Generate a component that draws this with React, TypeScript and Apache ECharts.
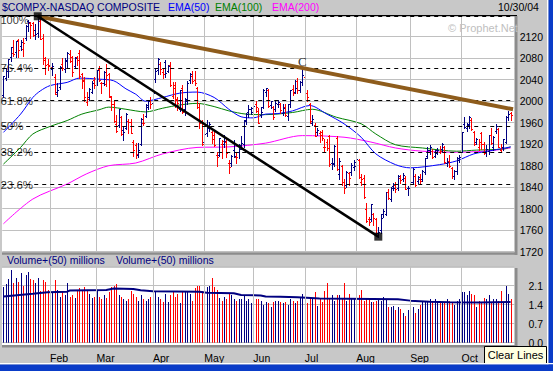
import React, { useEffect, useRef } from 'react';
import * as echarts from 'echarts';

const FONT = '"Liberation Sans", Arial, Helvetica, sans-serif';
const NAVY = '#000080';
const RED = '#ff0000';

// trading days of 2004 shown on the chart (categories)
const MONTH_NAMES = ['Jan', 'Feb', 'Mar', 'Apr', 'May', 'Jun', 'Jul', 'Aug', 'Sep', 'Oct'];
const janDays = [5, 6, 7, 8, 9, 12, 13, 14, 15, 16, 20, 21, 22, 23, 26, 27, 28, 29, 30];
const febDays = [2, 3, 4, 5, 6, 9, 10, 11, 12, 13, 17, 18, 19, 20, 23, 24, 25, 26, 27];
const marDays = [1, 2, 3, 4, 5, 8, 9, 10, 11, 12, 15, 16, 17, 18, 19, 22, 23, 24, 25, 26, 29, 30, 31];
const aprDays = [1, 2, 5, 6, 7, 8, 12, 13, 14, 15, 16, 19, 20, 21, 22, 23, 26, 27, 28, 29, 30];
const mayDays = [3, 4, 5, 6, 7, 10, 11, 12, 13, 14, 17, 18, 19, 20, 21, 24, 25, 26, 27, 28];
const junDays = [1, 2, 3, 4, 7, 8, 9, 10, 14, 15, 16, 17, 18, 21, 22, 23, 24, 25, 28, 29, 30];
const julDays = [1, 2, 6, 7, 8, 9, 12, 13, 14, 15, 16, 19, 20, 21, 22, 23, 26, 27, 28, 29, 30];
const augDays = [2, 3, 4, 5, 6, 9, 10, 11, 12, 13, 16, 17, 18, 19, 20, 23, 24, 25, 26, 27, 30, 31];
const sepDays = [1, 2, 3, 7, 8, 9, 10, 13, 14, 15, 16, 17, 20, 21, 22, 23, 24, 27, 28, 29, 30];
const octDays = [1, 4, 5, 6, 7, 8, 11, 12, 13, 14, 15, 18, 19, 20, 21, 22, 25, 26, 27, 28, 29];
const monthDays = [janDays, febDays, marDays, aprDays, mayDays, junDays, julDays, augDays, sepDays, octDays];

// daily bars: [open, high, low, close]
const janBars = [
  [2011, 2047, 2008, 2047], [2044, 2061, 2040, 2057], [2056, 2078, 2045, 2078], [2082, 2101, 2074, 2100],
  [2089, 2113, 2084, 2087], [2091, 2112, 2083, 2112], [2114, 2116, 2083, 2096], [2102, 2114, 2096, 2111],
  [2098, 2118, 2085, 2109], [2118, 2141, 2114, 2140], [2150, 2151, 2130, 2148], [2145, 2147, 2117, 2142],
  [2146, 2148, 2121, 2124], [2133, 2143, 2115, 2125], [2126, 2156, 2120, 2154], [2150, 2153, 2115, 2116],
  [2118, 2125, 2070, 2077], [2081, 2083, 2050, 2068], [2070, 2078, 2058, 2066],
];
const febBars = [
  [2068, 2080, 2050, 2063], [2060, 2071, 2048, 2066], [2045, 2050, 2013, 2014], [2018, 2034, 2010, 2020],
  [2026, 2065, 2022, 2064], [2070, 2080, 2058, 2061], [2059, 2080, 2055, 2075], [2076, 2092, 2063, 2090],
  [2088, 2095, 2072, 2074], [2082, 2084, 2047, 2054], [2066, 2083, 2063, 2080], [2082, 2085, 2068, 2076],
  [2090, 2095, 2043, 2046], [2050, 2053, 2025, 2038], [2040, 2045, 2000, 2008], [1998, 2018, 1993, 2005],
  [2008, 2024, 2003, 2023], [2018, 2038, 2015, 2033], [2040, 2045, 2025, 2030],
];
const marBars = [
  [2033, 2058, 2030, 2058], [2059, 2066, 2038, 2040], [2033, 2036, 2016, 2033], [2034, 2056, 2030, 2055],
  [2032, 2069, 2028, 2048], [2050, 2052, 2007, 2009], [2007, 2010, 1984, 1995], [1995, 2003, 1962, 1964],
  [1957, 1975, 1943, 1944], [1955, 1985, 1952, 1985], [1970, 1972, 1937, 1939], [1946, 1952, 1927, 1943],
  [1950, 1978, 1949, 1977], [1964, 1966, 1940, 1962], [1962, 1967, 1940, 1940], [1925, 1927, 1898, 1910],
  [1918, 1922, 1895, 1902], [1900, 1922, 1897, 1909], [1920, 1968, 1918, 1967], [1960, 1977, 1955, 1960],
  [1972, 1994, 1970, 1993], [1990, 2001, 1985, 2001], [2003, 2007, 1987, 1994],
];
const aprBars = [
  [1996, 2020, 1994, 2015], [2042, 2060, 2035, 2057], [2058, 2080, 2050, 2079], [2070, 2073, 2050, 2060],
  [2055, 2062, 2043, 2050], [2072, 2076, 2045, 2053], [2056, 2068, 2054, 2065], [2068, 2072, 2028, 2030],
  [2010, 2035, 2006, 2025], [2030, 2036, 1990, 2002], [2005, 2008, 1983, 1996], [1985, 2021, 1982, 2020],
  [2025, 2030, 1978, 1979], [1985, 2006, 1975, 2005], [2000, 2037, 1994, 2033], [2040, 2052, 2033, 2050],
  [2047, 2056, 2033, 2037], [2040, 2056, 2030, 2033], [2025, 2027, 1988, 1990], [1990, 1997, 1950, 1959],
  [1962, 1965, 1918, 1920],
];
const mayBars = [
  [1925, 1943, 1918, 1939], [1940, 1965, 1935, 1950], [1950, 1962, 1945, 1957], [1942, 1945, 1922, 1938],
  [1930, 1947, 1917, 1918], [1900, 1905, 1880, 1896], [1900, 1932, 1898, 1931], [1920, 1928, 1895, 1926],
  [1920, 1938, 1915, 1926], [1925, 1930, 1896, 1904], [1885, 1890, 1866, 1877], [1885, 1899, 1880, 1898],
  [1910, 1927, 1896, 1898], [1897, 1905, 1885, 1897], [1905, 1920, 1895, 1912], [1918, 1935, 1912, 1923],
  [1920, 1965, 1915, 1965], [1963, 1978, 1958, 1976], [1980, 1993, 1970, 1985], [1985, 1990, 1977, 1987],
];
const junBars = [
  [1980, 1993, 1975, 1991], [1995, 2000, 1980, 1989], [1982, 1987, 1960, 1960], [1975, 1990, 1970, 1979],
  [1990, 2022, 1988, 2021], [2018, 2025, 2010, 2024], [2020, 2022, 1990, 1991], [1993, 2001, 1988, 2000],
  [1990, 1992, 1966, 1970], [1985, 2000, 1982, 1996], [1995, 2002, 1990, 1998], [1995, 1997, 1978, 1984],
  [1978, 1995, 1975, 1987], [1990, 1995, 1973, 1974], [1972, 1995, 1965, 1994], [1995, 2021, 1990, 2021],
  [2022, 2030, 2012, 2016], [2018, 2040, 2015, 2025], [2038, 2043, 2016, 2020], [2020, 2038, 2018, 2035],
  [2035, 2062, 2030, 2048],
];
const julBars = [
  [2045, 2050, 2010, 2016], [2015, 2020, 2000, 2007], [1995, 1997, 1960, 1963], [1960, 1975, 1955, 1966],
  [1955, 1960, 1935, 1935], [1943, 1950, 1937, 1946], [1940, 1945, 1925, 1937], [1943, 1946, 1927, 1932],
  [1915, 1930, 1905, 1915], [1925, 1930, 1910, 1913], [1935, 1938, 1880, 1883], [1885, 1895, 1873, 1884],
  [1885, 1918, 1880, 1917], [1932, 1935, 1872, 1874], [1865, 1895, 1855, 1889], [1880, 1882, 1845, 1849],
  [1850, 1855, 1830, 1839], [1845, 1870, 1840, 1869], [1866, 1868, 1845, 1858], [1868, 1885, 1862, 1881],
  [1878, 1890, 1872, 1887],
];
const augBars = [
  [1880, 1895, 1872, 1892], [1890, 1892, 1858, 1859], [1850, 1865, 1845, 1855], [1858, 1862, 1820, 1822],
  [1800, 1810, 1775, 1777], [1780, 1785, 1770, 1775], [1780, 1809, 1778, 1809], [1790, 1792, 1770, 1782],
  [1780, 1782, 1752, 1752], [1755, 1766, 1748, 1757], [1760, 1790, 1755, 1783], [1790, 1800, 1785, 1795],
  [1790, 1832, 1788, 1831], [1832, 1836, 1818, 1820], [1818, 1840, 1815, 1838], [1842, 1848, 1835, 1839],
  [1845, 1850, 1832, 1837], [1838, 1862, 1835, 1861], [1858, 1862, 1847, 1853], [1856, 1866, 1852, 1862],
  [1858, 1860, 1836, 1836], [1838, 1842, 1826, 1838],
];
const sepBars = [
  [1838, 1852, 1830, 1850], [1850, 1875, 1848, 1873], [1860, 1865, 1843, 1844], [1852, 1860, 1848, 1859],
  [1855, 1865, 1848, 1851], [1855, 1872, 1852, 1870], [1868, 1895, 1865, 1894], [1898, 1915, 1895, 1910],
  [1910, 1918, 1902, 1915], [1908, 1912, 1894, 1897], [1898, 1910, 1896, 1904], [1910, 1913, 1902, 1910],
  [1905, 1917, 1903, 1908], [1912, 1922, 1908, 1921], [1915, 1917, 1885, 1886], [1885, 1895, 1880, 1886],
  [1888, 1900, 1878, 1879], [1875, 1878, 1858, 1860], [1860, 1872, 1855, 1870], [1870, 1897, 1865, 1894],
  [1890, 1900, 1886, 1897],
];
const octBars = [
  [1910, 1943, 1905, 1942], [1958, 1970, 1950, 1952], [1950, 1960, 1945, 1956], [1957, 1972, 1950, 1971],
  [1965, 1968, 1947, 1949], [1942, 1945, 1918, 1920], [1925, 1932, 1920, 1929], [1915, 1930, 1910, 1925],
  [1940, 1942, 1912, 1921], [1920, 1925, 1902, 1903], [1905, 1918, 1898, 1912], [1908, 1938, 1902, 1937],
  [1938, 1950, 1921, 1923], [1915, 1935, 1910, 1933], [1945, 1958, 1940, 1954], [1948, 1950, 1914, 1915],
  [1910, 1920, 1905, 1914], [1915, 1930, 1910, 1929], [1925, 1972, 1922, 1970], [1970, 1982, 1965, 1976],
  [1978, 1980, 1965, 1975],
];

// volume, billions of shares (axis reads "millions")
const janVol = [2.05, 2.15, 2.35, 2.68, 2.2, 2.4, 2.25, 2.55, 2.1, 2.5, 2.6, 2.35, 2.3, 2.2, 2.4, 1.9, 2.3, 2.25, 1.95];
const febVol = [1.9, 1.85, 2.3, 1.95, 1.7, 1.85, 1.75, 2.2, 1.7, 1.75, 1.65, 1.9, 2.0, 1.95, 2.05, 1.9, 1.8, 1.65, 1.7];
const marVol = [1.95, 1.7, 1.6, 1.75, 1.65, 1.85, 2.05, 2.1, 2.15, 1.75, 1.7, 1.6, 1.55, 1.6, 1.9, 1.8, 1.7, 1.55, 1.75, 1.6, 1.55, 1.6, 1.7];
const aprVol = [1.9, 1.9, 1.7, 1.6, 1.5, 1.8, 1.5, 1.75, 1.85, 1.7, 1.8, 1.45, 1.9, 1.85, 1.9, 1.8, 1.55, 2.0, 2.1, 2.1, 1.9];
const mayVol = [1.75, 2.05, 2.1, 2.4, 2.05, 1.95, 1.65, 1.55, 1.7, 1.6, 1.8, 1.75, 1.6, 1.55, 1.6, 1.6, 1.75, 1.55, 1.6, 1.45];
const junVol = [1.6, 1.6, 1.6, 1.55, 1.4, 1.5, 1.45, 1.3, 1.5, 1.55, 1.55, 1.5, 1.45, 1.5, 1.4, 1.6, 1.55, 1.45, 1.55, 1.65, 1.8];
const julVol = [1.75, 1.45, 1.65, 1.6, 1.85, 1.35, 1.6, 1.5, 1.9, 2.2, 1.65, 1.75, 1.55, 1.75, 1.75, 1.6, 2.2, 1.55, 1.8, 1.6, 1.65];
const augVol = [1.55, 1.75, 1.95, 1.55, 1.6, 1.65, 1.5, 1.5, 1.55, 1.6, 1.55, 1.7, 1.6, 1.3, 1.3, 1.35, 1.2, 1.3, 1.25, 1.1, 1.0, 1.2];
const sepVol = [1.35, 1.3, 1.1, 1.25, 1.4, 1.5, 1.55, 1.55, 1.6, 1.55, 1.6, 1.5, 1.55, 1.45, 1.5, 1.6, 1.55, 1.45, 1.4, 1.55, 1.6];
const octVol = [1.85, 1.85, 1.75, 1.9, 1.8, 1.75, 1.3, 1.55, 1.5, 1.65, 1.6, 1.75, 1.45, 1.6, 1.6, 1.55, 1.9, 1.5, 2.1, 1.8, 1.6];

// 50-day volume average, read at bar indices: [index, value]
const volAvg = [
  [0, 1.70], [12, 1.80], [18, 1.86], [26, 1.88], [27, 1.92], [42, 1.94], [45, 2.0], [53, 1.98], [56, 1.93],
  [61, 1.90], [80, 1.88], [83, 1.84], [94, 1.82], [97, 1.76], [105, 1.74], [107, 1.70], [113, 1.69],
  [120, 1.67], [129, 1.63], [140, 1.62], [161, 1.60], [166, 1.55], [174, 1.51], [182, 1.49], [194, 1.48], [207, 1.50],
];

// moving averages read at bar indices: [index, value]
const ema50 = [
  [0, 1942], [7, 1976], [12, 2007], [15, 2019], [19, 2029], [26, 2035], [31, 2043], [39, 2041], [45, 2038],
  [50, 2023], [54, 2013], [58, 2000], [65, 2007], [72, 2015], [79, 2017], [86, 2007], [92, 1985], [97, 1971],
  [102, 1969], [107, 1976], [112, 1977], [118, 1982], [125, 1992], [132, 1976], [139, 1958], [146, 1933],
  [152, 1902], [160, 1882], [166, 1876], [178, 1882], [185, 1889], [192, 1902], [199, 1908], [207, 1915],
];
const ema100 = [
  [0, 1883], [7, 1914], [12, 1939], [19, 1953], [26, 1964], [32, 1976], [39, 1984], [43, 1989], [50, 1985],
  [54, 1982], [58, 1980], [65, 1987], [72, 1993], [79, 1996], [86, 1990], [92, 1982], [99, 1976], [107, 1975],
  [118, 1979], [126, 1985], [136, 1970], [146, 1958], [152, 1939], [160, 1919], [171, 1913], [185, 1907],
  [193, 1909], [204, 1911], [207, 1915],
];
const ema200 = [
  [0, 1772], [12, 1818], [26, 1846], [34, 1865], [43, 1880], [54, 1885], [65, 1902], [79, 1914], [92, 1915],
  [107, 1922], [122, 1936], [139, 1933], [150, 1924], [160, 1913], [171, 1907], [185, 1905], [199, 1908], [207, 1913],
];

// trend lines and Fibonacci retracement levels
const brownLine = [[14, 2158], [208, 1985]];
const blackLine = [[14, 2158], [153, 1748]];
const fibLevels = [
  { label: '100%', value: 2158 },
  { label: '76.4%', value: 2061 },
  { label: '61.8%', value: 2001 },
  { label: '50%', value: 1953 },
  { label: '38.2%', value: 1905 },
  { label: '23.6%', value: 1845 },
];
const peakLabel = { label: 'C', index: 122, value: 2073 };

export default function App() {
  const ref = useRef<HTMLDivElement>(null);

  useEffect(() => {
    if (!ref.current) return;
    const chart = echarts.init(ref.current, undefined, { renderer: 'svg' });

    const cats: string[] = [];
    const monthStarts: number[] = [];
    const monthOfIdx: Record<number, string> = {};
    monthDays.forEach((days, m) => {
      days.forEach((d, k) => {
        if (k === 0 && m > 0) {
          monthStarts.push(cats.length);
          monthOfIdx[cats.length] = MONTH_NAMES[m];
        }
        cats.push(`2004-${m + 1}-${d}`);
      });
    });
    cats.push(''); // right padding slot

    const bars = [
      ...janBars, ...febBars, ...marBars, ...aprBars, ...mayBars,
      ...junBars, ...julBars, ...augBars, ...sepBars, ...octBars,
    ];
    const vols = [
      ...janVol, ...febVol, ...marVol, ...aprVol, ...mayVol,
      ...junVol, ...julVol, ...augVol, ...sepVol, ...octVol,
    ];
    const down = bars.map((b, i) => (i > 0 && b[3] < bars[i - 1][3] ? 1 : 0));
    const ohlcData = bars.map((b, i) => [i, b[0], b[1], b[2], b[3], down[i]]);
    const volData = vols.map((v, i) => [i, v, down[i]]);

    const N = cats.length;
    const band = 2.45;
    const gLeft = 2.225;
    const gWidth = N * band;
    const gRight = gLeft + gWidth;
    const labelMargin = 543 - gRight;

    const axisFont = { color: '#000', fontSize: 10.5, fontFamily: FONT };

    const option: any = {
      animation: false,
      backgroundColor: '#c8c8c8',
      textStyle: { fontFamily: FONT },
      grid: [
        { left: gLeft, width: gWidth, top: 15.2, height: 236.5, show: false },
        { left: gLeft, width: gWidth, top: 266.7, height: 76, show: false },
      ],
      xAxis: [
        {
          type: 'category', gridIndex: 0, data: cats, boundaryGap: true,
          axisLine: { show: false }, axisTick: { show: false }, axisLabel: { show: false },
          splitLine: { show: false },
        },
        {
          type: 'category', gridIndex: 1, data: cats, boundaryGap: true,
          axisLine: { show: false }, axisTick: { show: false },
          splitLine: { show: false },
          axisLabel: {
            show: true,
            interval: (i: number) => monthOfIdx[i] !== undefined,
            formatter: (_v: string, i: number) => monthOfIdx[i] || '',
            align: 'left', margin: 10, ...axisFont,
          },
        },
      ],
      yAxis: [
        {
          type: 'value', gridIndex: 0, position: 'right', min: 1720, max: 2160, interval: 40,
          axisLine: { show: false }, axisTick: { show: false },
          axisLabel: {
            showMaxLabel: false, align: 'right', margin: labelMargin, ...axisFont,
            formatter: (v: number) => String(v),
          },
          splitLine: { show: true, lineStyle: { color: '#c0c0c0', width: 1 } },
        },
        {
          type: 'value', gridIndex: 1, position: 'right', min: 0, max: 2.8, interval: 0.7,
          axisLine: { show: false }, axisTick: { show: false },
          axisLabel: {
            showMaxLabel: false, align: 'right', margin: labelMargin, ...axisFont,
            formatter: (v: number) => v.toFixed(1),
          },
          splitLine: { show: true, lineStyle: { color: '#c0c0c0', width: 1 } },
        },
      ],
      series: [
        {
          // Fibonacci labels + month grid lines + dashed levels
          type: 'scatter', xAxisIndex: 0, yAxisIndex: 0, z: 1, silent: true,
          symbolSize: 0,
          data: fibLevels.map((f, k) => ({
            value: [0, f.value], name: f.label,
            label: k === 0 ? { offset: [-3, 3.5], fontSize: 11 } : undefined,
          })),
          label: {
            show: true, position: 'right', distance: 0, offset: [-3, 0],
            formatter: (p: any) => p.name, color: '#000', fontSize: 11.5, fontFamily: FONT,
          },
          markLine: {
            silent: true,
            symbol: ['none', 'none'],
            label: { show: false },
            emphasis: { disabled: true },
            data: [
              ...monthStarts.map((i) => ({ xAxis: i, lineStyle: { color: '#c0c0c0', type: 'solid', width: 1 } })),
              ...fibLevels.map((f) => ({ yAxis: f.value, lineStyle: { color: '#000', type: [4, 4], width: 1 } })),
            ],
          },
        },
        {
          type: 'line', xAxisIndex: 0, yAxisIndex: 0, z: 2, data: ema200, showSymbol: false, smooth: 0.3,
          lineStyle: { color: '#ff00ff', width: 1 }, silent: true,
        },
        {
          type: 'line', xAxisIndex: 0, yAxisIndex: 0, z: 2, data: ema100, showSymbol: false, smooth: 0.3,
          lineStyle: { color: '#008000', width: 1 }, silent: true,
        },
        {
          type: 'line', xAxisIndex: 0, yAxisIndex: 0, z: 2, data: ema50, showSymbol: false, smooth: 0.3,
          lineStyle: { color: '#0000ff', width: 1 }, silent: true,
        },
        {
          type: 'custom', xAxisIndex: 0, yAxisIndex: 0, z: 3, silent: true,
          data: ohlcData,
          encode: { x: 0, y: [1, 2, 3, 4] },
          renderItem: (_params: any, api: any) => {
            const idx = api.value(0);
            const pO = api.coord([idx, api.value(1)]);
            const pH = api.coord([idx, api.value(2)]);
            const pL = api.coord([idx, api.value(3)]);
            const pC = api.coord([idx, api.value(4)]);
            const color = api.value(5) === 1 ? RED : NAVY;
            const x = Math.round(pH[0]) + 0.5;
            const yo = Math.round(pO[1]) + 0.5;
            const yc = Math.round(pC[1]) + 0.5;
            const st = { stroke: color, lineWidth: 1, fill: 'none' };
            return {
              type: 'group',
              children: [
                { type: 'line', shape: { x1: x, y1: Math.round(pH[1]), x2: x, y2: Math.round(pL[1]) + 1 }, style: st },
                { type: 'line', shape: { x1: x - 1.5, y1: yo, x2: x, y2: yo }, style: st },
                { type: 'line', shape: { x1: x, y1: yc, x2: x + 1.5, y2: yc }, style: st },
              ],
            };
          },
        },
        {
          type: 'line', xAxisIndex: 0, yAxisIndex: 0, z: 10, data: brownLine, showSymbol: false, silent: true,
          lineStyle: { color: '#8e5c1c', width: 4 },
        },
        {
          type: 'line', xAxisIndex: 0, yAxisIndex: 0, z: 11, data: blackLine, showSymbol: false, silent: true,
          lineStyle: { color: '#000', width: 2.5 },
        },
        {
          type: 'scatter', xAxisIndex: 0, yAxisIndex: 0, z: 12, data: [blackLine[0], blackLine[1]], silent: true,
          symbol: 'rect', symbolSize: 8, itemStyle: { color: '#000' },
        },
        {
          type: 'scatter', xAxisIndex: 0, yAxisIndex: 0, z: 12, silent: true, symbolSize: 0,
          data: [{ value: [peakLabel.index, peakLabel.value], name: peakLabel.label }],
          label: {
            show: true, position: 'inside', formatter: (p: any) => p.name, color: '#000',
            fontSize: 13, fontFamily: '"Liberation Serif", "Times New Roman", serif',
          },
        },
        // volume panel
        {
          type: 'scatter', xAxisIndex: 1, yAxisIndex: 1, z: 1, silent: true, symbolSize: 0,
          data: [[0, 0]],
          markLine: {
            silent: true,
            symbol: ['none', 'none'],
            label: { show: false },
            emphasis: { disabled: true },
            lineStyle: { color: '#c0c0c0', type: 'solid', width: 1 },
            data: monthStarts.map((i) => ({ xAxis: i })),
          },
        },
        {
          type: 'custom', xAxisIndex: 1, yAxisIndex: 1, z: 3, silent: true,
          data: volData,
          encode: { x: 0, y: 1 },
          renderItem: (_params: any, api: any) => {
            const idx = api.value(0);
            const top = api.coord([idx, api.value(1)]);
            const base = api.coord([idx, 0]);
            const x = Math.round(top[0]) + 0.5;
            return {
              type: 'line',
              shape: { x1: x, y1: Math.round(top[1]), x2: x, y2: base[1] },
              style: { stroke: api.value(2) === 1 ? RED : NAVY, lineWidth: 1, fill: 'none' },
            };
          },
        },
        {
          type: 'line', xAxisIndex: 1, yAxisIndex: 1, z: 4, data: volAvg, showSymbol: false, silent: true,
          lineStyle: { color: NAVY, width: 2 },
        },
      ],
      graphic: [
        // plot backgrounds
        { type: 'rect', z: -1, shape: { x: 2, y: 16, width: 513, height: 237 }, style: { fill: '#ffffff' }, silent: true },
        { type: 'rect', z: -1, shape: { x: 2, y: 268, width: 513, height: 77 }, style: { fill: '#ffffff' }, silent: true },
        // borders
        { type: 'rect', z: 100, shape: { x: 0, y: 15, width: 517, height: 1.2 }, style: { fill: '#000' }, silent: true },
        { type: 'rect', z: 100, shape: { x: 514.5, y: 16, width: 3, height: 239 }, style: { fill: '#8c8c8c' }, silent: true },
        { type: 'rect', z: 100, shape: { x: 2, y: 252.2, width: 515, height: 2.6 }, style: { fill: '#8c8c8c' }, silent: true },
        { type: 'rect', z: 100, shape: { x: 514.5, y: 268, width: 3, height: 80 }, style: { fill: '#8c8c8c' }, silent: true },
        { type: 'rect', z: 100, shape: { x: 2, y: 345, width: 515, height: 2.6 }, style: { fill: '#8c8c8c' }, silent: true },
        // header texts
        { type: 'text', z: 100, x: 2, y: 7, style: { text: '$COMPX-NASDAQ COMPOSITE', fill: NAVY, font: `10.5px ${FONT}`, verticalAlign: 'middle' } },
        { type: 'text', z: 100, x: 168, y: 7, style: { text: 'EMA(50)', fill: '#0000ff', font: `10.5px ${FONT}`, verticalAlign: 'middle' } },
        { type: 'text', z: 100, x: 215, y: 7, style: { text: 'EMA(100)', fill: '#008000', font: `10.5px ${FONT}`, verticalAlign: 'middle' } },
        { type: 'text', z: 100, x: 272, y: 7, style: { text: 'EMA(200)', fill: '#ff00ff', font: `10.5px ${FONT}`, verticalAlign: 'middle' } },
        { type: 'text', z: 100, x: 498, y: 7, style: { text: '10/30/04', fill: '#000', font: `10.5px ${FONT}`, verticalAlign: 'middle' } },
        { type: 'text', z: 100, x: 448, y: 28, style: { text: '© Prophet.Net', fill: '#c0c0c0', font: `11px ${FONT}`, verticalAlign: 'middle' } },
        { type: 'text', z: 100, x: 7, y: 260, style: { text: 'Volume+(50) millions', fill: NAVY, font: `10.5px ${FONT}`, verticalAlign: 'middle' } },
        { type: 'text', z: 100, x: 116, y: 260, style: { text: 'Volume+(50) millions', fill: NAVY, font: `10.5px ${FONT}`, verticalAlign: 'middle' } },
        // Clear Lines button
        { type: 'rect', z: 100, shape: { x: 484.5, y: 346.5, width: 62, height: 17 }, style: { fill: '#ffffe1', stroke: '#000', lineWidth: 1 } },
        { type: 'text', z: 101, x: 515.5, y: 355, style: { text: 'Clear Lines', fill: '#000', font: `11px ${FONT}`, align: 'center', verticalAlign: 'middle' } },
        // window frame
        { type: 'rect', z: 100, shape: { x: 547, y: 0, width: 1.5, height: 371 }, style: { fill: '#ffffff' }, silent: true },
        { type: 'rect', z: 100, shape: { x: 548.5, y: 0, width: 4.5, height: 371 }, style: { fill: '#0a3cc8' }, silent: true },
        { type: 'rect', z: 100, shape: { x: 0, y: 363, width: 553, height: 1.5 }, style: { fill: '#ffffff' }, silent: true },
        { type: 'rect', z: 100, shape: { x: 0, y: 364.5, width: 553, height: 6.5 }, style: { fill: '#0a3cc8' }, silent: true },
      ],
    };

    chart.setOption(option);
    return () => chart.dispose();
  }, []);

  return (
    <div
      ref={ref}
      style={{ position: 'fixed', left: 0, top: 0, width: 553, height: 371 }}
    />
  );
}
